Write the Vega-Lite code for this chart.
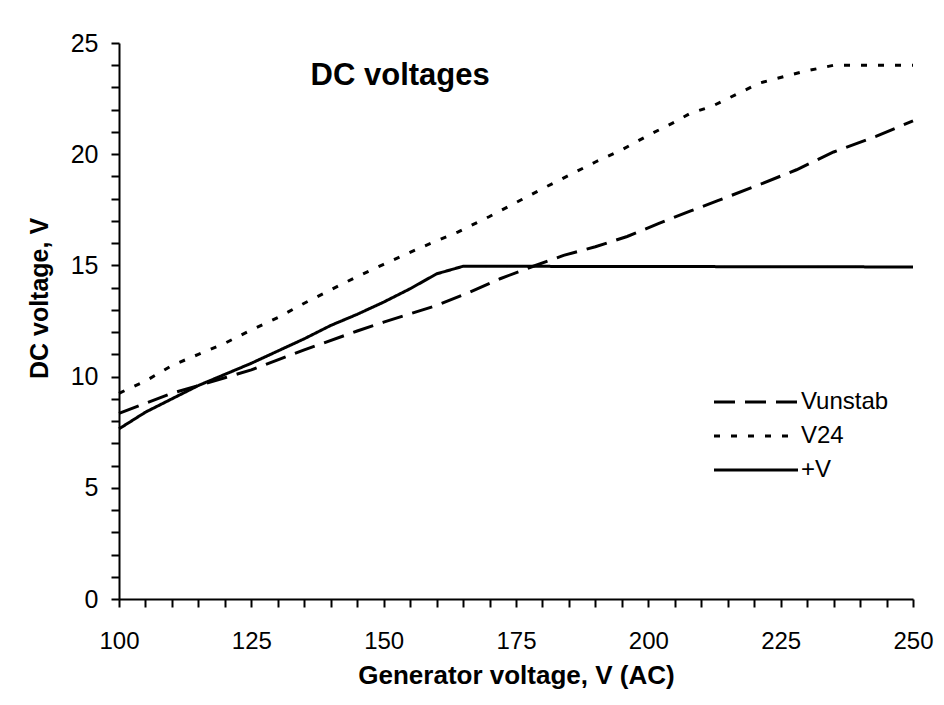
{
  "$schema": "https://vega.github.io/schema/vega-lite/v6.json",
  "width": 794,
  "height": 556,
  "autosize": "none",
  "padding": {"left": 119, "top": 43, "right": 31, "bottom": 106},
  "background": "white",
  "config": {
    "font": "Liberation Sans",
    "view": {"stroke": null},
    "axis": {"grid": false, "labelOverlap": false, "domainColor": "black", "tickColor": "black", "domainWidth": 2, "tickWidth": 2, "tickSize": 8, "labelColor": "black", "titleColor": "black", "labelFont": "Liberation Sans", "titleFont": "Liberation Sans"}
  },
  "data": {"values": [
    {"v": 100, "V": 8.35, "s": "Vunstab"},
    {"v": 110, "V": 9.25, "s": "Vunstab"},
    {"v": 120, "V": 9.95, "s": "Vunstab"},
    {"v": 125, "V": 10.3, "s": "Vunstab"},
    {"v": 130, "V": 10.75, "s": "Vunstab"},
    {"v": 135, "V": 11.2, "s": "Vunstab"},
    {"v": 145, "V": 12.05, "s": "Vunstab"},
    {"v": 150, "V": 12.45, "s": "Vunstab"},
    {"v": 160, "V": 13.2, "s": "Vunstab"},
    {"v": 166, "V": 13.77, "s": "Vunstab"},
    {"v": 172, "V": 14.4, "s": "Vunstab"},
    {"v": 178, "V": 14.94, "s": "Vunstab"},
    {"v": 184, "V": 15.45, "s": "Vunstab"},
    {"v": 190, "V": 15.84, "s": "Vunstab"},
    {"v": 196, "V": 16.3, "s": "Vunstab"},
    {"v": 202, "V": 16.89, "s": "Vunstab"},
    {"v": 208, "V": 17.45, "s": "Vunstab"},
    {"v": 213, "V": 17.9, "s": "Vunstab"},
    {"v": 220, "V": 18.54, "s": "Vunstab"},
    {"v": 228, "V": 19.3, "s": "Vunstab"},
    {"v": 235, "V": 20.1, "s": "Vunstab"},
    {"v": 243, "V": 20.8, "s": "Vunstab"},
    {"v": 250, "V": 21.5, "s": "Vunstab"},
    {"v": 100, "V": 9.25, "s": "V24"},
    {"v": 105, "V": 9.8, "s": "V24"},
    {"v": 110, "V": 10.5, "s": "V24"},
    {"v": 115, "V": 11.0, "s": "V24"},
    {"v": 120, "V": 11.5, "s": "V24"},
    {"v": 125, "V": 12.1, "s": "V24"},
    {"v": 130, "V": 12.65, "s": "V24"},
    {"v": 135, "V": 13.3, "s": "V24"},
    {"v": 140, "V": 13.9, "s": "V24"},
    {"v": 145, "V": 14.5, "s": "V24"},
    {"v": 150, "V": 15.05, "s": "V24"},
    {"v": 157, "V": 15.8, "s": "V24"},
    {"v": 164, "V": 16.5, "s": "V24"},
    {"v": 170, "V": 17.2, "s": "V24"},
    {"v": 176, "V": 17.95, "s": "V24"},
    {"v": 180, "V": 18.45, "s": "V24"},
    {"v": 185, "V": 19.05, "s": "V24"},
    {"v": 190, "V": 19.65, "s": "V24"},
    {"v": 195, "V": 20.2, "s": "V24"},
    {"v": 200, "V": 20.85, "s": "V24"},
    {"v": 205, "V": 21.45, "s": "V24"},
    {"v": 208, "V": 21.85, "s": "V24"},
    {"v": 212, "V": 22.15, "s": "V24"},
    {"v": 221, "V": 23.2, "s": "V24"},
    {"v": 229, "V": 23.7, "s": "V24"},
    {"v": 235, "V": 24.0, "s": "V24"},
    {"v": 250, "V": 24.0, "s": "V24"},
    {"v": 100, "V": 7.65, "s": "+V"},
    {"v": 105, "V": 8.4, "s": "+V"},
    {"v": 110, "V": 9.0, "s": "+V"},
    {"v": 115, "V": 9.6, "s": "+V"},
    {"v": 120, "V": 10.1, "s": "+V"},
    {"v": 125, "V": 10.6, "s": "+V"},
    {"v": 130, "V": 11.15, "s": "+V"},
    {"v": 135, "V": 11.7, "s": "+V"},
    {"v": 140, "V": 12.3, "s": "+V"},
    {"v": 145, "V": 12.8, "s": "+V"},
    {"v": 150, "V": 13.35, "s": "+V"},
    {"v": 155, "V": 13.95, "s": "+V"},
    {"v": 160, "V": 14.62, "s": "+V"},
    {"v": 165, "V": 14.96, "s": "+V"},
    {"v": 170, "V": 14.96, "s": "+V"},
    {"v": 200, "V": 14.95, "s": "+V"},
    {"v": 250, "V": 14.93, "s": "+V"}
  ]},
  "layer": [
    {
      "mark": {"type": "line", "color": "black", "strokeWidth": 3},
      "encoding": {
        "x": {"field": "v", "type": "quantitative", "scale": {"domain": [100, 250], "nice": false, "zero": false},
          "axis": {"title": "Generator voltage, V (AC)", "values": [100,105,110,115,120,125,130,135,140,145,150,155,160,165,170,175,180,185,190,195,200,205,210,215,220,225,230,235,240,245,250],
            "labelExpr": "datum.value % 25 === 0 ? datum.label : ''", "labelOverlap": false, "labelFontSize": 24, "labelPadding": 22, "labelFlush": false,
            "titleFontSize": 26, "titleFontWeight": "bold", "titleBaseline": "middle", "titleY": 76}},
        "y": {"field": "V", "type": "quantitative", "scale": {"domain": [0, 25], "nice": false},
          "axis": {"title": "DC voltage, V", "values": [0,1,2,3,4,5,6,7,8,9,10,11,12,13,14,15,16,17,18,19,20,21,22,23,24,25],
            "labelExpr": "datum.value % 5 === 0 ? datum.label : ''", "labelOverlap": false, "labelFontSize": 25, "labelPadding": 13,
            "titleFontSize": 25, "titleFontWeight": "bold", "titleAngle": 270, "titleAlign": "center", "titleBaseline": "middle", "titleX": -80, "titleY": 255}},
        "strokeDash": {"field": "s", "type": "nominal", "sort": ["Vunstab", "V24", "+V"],
          "scale": {"domain": ["Vunstab", "V24", "+V"], "range": [[21, 10], [6, 11], [1, 0]]},
          "legend": {"title": null, "orient": "none", "legendX": 625, "legendY": 347, "symbolType": "M-4,0H4", "symbolSize": 441, "symbolStrokeWidth": 3, "symbolStrokeColor": "black", "symbolFillColor": "transparent", "labelFontSize": 24, "labelColor": "black", "labelOffset": 33, "rowPadding": 10}}
      }
    },
    {
      "data": {"values": [{"t": "DC voltages"}]},
      "mark": {"type": "text", "align": "left", "baseline": "alphabetic", "fontSize": 31, "fontWeight": "bold", "color": "black", "font": "Liberation Sans"},
      "encoding": {
        "x": {"datum": 136.2, "type": "quantitative", "scale": {"domain": [100, 250], "nice": false, "zero": false},
          "axis": {"title": "Generator voltage, V (AC)", "values": [100,105,110,115,120,125,130,135,140,145,150,155,160,165,170,175,180,185,190,195,200,205,210,215,220,225,230,235,240,245,250],
            "labelExpr": "datum.value % 25 === 0 ? datum.label : ''", "labelOverlap": false, "labelFontSize": 24, "labelPadding": 22, "labelFlush": false,
            "titleFontSize": 26, "titleFontWeight": "bold", "titleBaseline": "middle", "titleY": 76}},
        "y": {"datum": 23.11, "type": "quantitative", "scale": {"domain": [0, 25], "nice": false},
          "axis": {"title": "DC voltage, V", "values": [0,1,2,3,4,5,6,7,8,9,10,11,12,13,14,15,16,17,18,19,20,21,22,23,24,25],
            "labelExpr": "datum.value % 5 === 0 ? datum.label : ''", "labelOverlap": false, "labelFontSize": 25, "labelPadding": 13,
            "titleFontSize": 25, "titleFontWeight": "bold", "titleAngle": 270, "titleAlign": "center", "titleBaseline": "middle", "titleX": -80, "titleY": 255}},
        "text": {"field": "t"}
      }
    }
  ]
}
